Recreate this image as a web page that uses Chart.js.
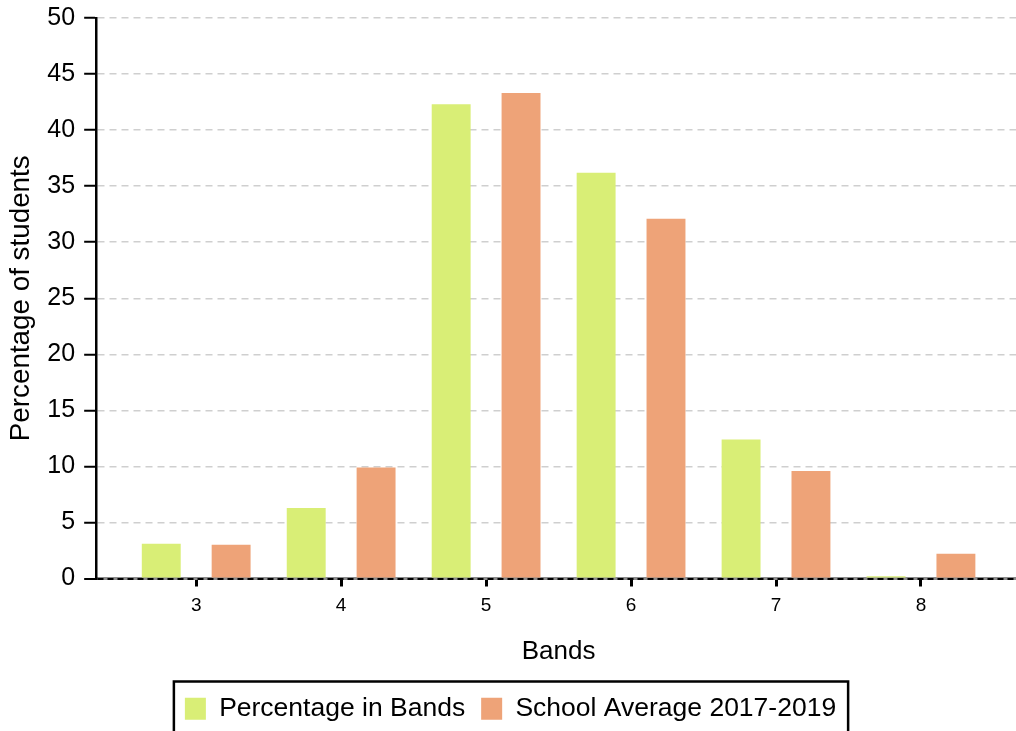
<!DOCTYPE html>
<html>
<head>
<meta charset="utf-8">
<script src="https://cdn.jsdelivr.net/npm/chart.js@4/dist/chart.umd.min.js"></script>
<style>
  html, body { margin: 0; padding: 0; background: #fff; overflow: hidden; width: 1016px; height: 731px; }
  #wrap { position: absolute; left: 0; top: 0; width: 1026px; height: 732px; }
</style>
</head>
<body>
<div id="wrap"><canvas id="c" width="1026" height="732"></canvas></div>
<script>
const bands = [3, 4, 5, 6, 7, 8];
const percentageInBands = [3.1, 6.3, 42.3, 36.2, 12.4, 0.2];
const schoolAverage = [3.0, 9.9, 43.3, 32.1, 9.6, 2.2];
const yTicks = [0, 5, 10, 15, 20, 25, 30, 35, 40, 45, 50];
const seriesNames = ['Percentage in Bands', 'School Average 2017-2019'];
const xTitle = 'Bands';
const yTitle = 'Percentage of students';

const FONT = "'Liberation Sans', Arial, Helvetica, sans-serif";
const GREEN = 'rgb(217,238,118)';
const ORANGE = 'rgb(238,163,120)';

const legendBorder = {
  id: 'legendBorder',
  afterDraw(chart) {
    const lg = chart.legend;
    if (!lg || !lg.legendHitBoxes || !lg.legendHitBoxes.length) return;
    const boxes = lg.legendHitBoxes;
    const left = Math.min(...boxes.map(b => b.left)) - 11;
    const right = Math.max(...boxes.map(b => b.left + b.width)) + 12;
    const top = Math.min(...boxes.map(b => b.top)) - 14;
    const bottom = Math.max(...boxes.map(b => b.top + b.height)) + 14;
    const ctx = chart.ctx;
    ctx.save();
    ctx.strokeStyle = '#000';
    ctx.lineWidth = 2.5;
    ctx.strokeRect(left, top, right - left, bottom - top);
    ctx.restore();
  }
};

new Chart(document.getElementById('c'), {
  type: 'bar',
  data: {
    datasets: [
      { label: seriesNames[0], data: bands.map((b, i) => ({ x: b, y: percentageInBands[i] })), backgroundColor: GREEN, borderWidth: 0 },
      { label: seriesNames[1], data: bands.map((b, i) => ({ x: b, y: schoolAverage[i] })), backgroundColor: ORANGE, borderWidth: 0 }
    ]
  },
  options: {
    responsive: false,
    animation: false,
    devicePixelRatio: 1,
    categoryPercentage: 0.964,
    barPercentage: 0.557,
    layout: { padding: { top: 18, left: 0, right: 5, bottom: 0 } },
    plugins: {
      tooltip: { enabled: false },
      title: { display: false },
      legend: {
        position: 'bottom',
        labels: {
          boxWidth: 21,
          boxHeight: 22,
          padding: 16,
          color: '#000',
          font: { family: FONT, size: 26.5 }
        }
      }
    },
    scales: {
      x: {
        type: 'linear',
        offset: false,
        min: 2.31,
        max: 8.69,
        afterBuildTicks: (scale) => { scale.ticks = bands.map(v => ({ value: v })); },
        ticks: { color: '#000', font: { family: FONT, size: 19 }, padding: 8 },
        grid: { offset: false, drawOnChartArea: false, drawTicks: true, tickLength: 8, tickWidth: 3, tickColor: '#000', z: -3 },
        border: { display: true, color: '#8a8a8a', width: 3, z: -2 },
        title: { display: true, text: xTitle, color: '#000', font: { family: FONT, size: 26 }, padding: { top: 11, bottom: 12 } }
      },
      y: {
        min: 0,
        max: 50,
        afterBuildTicks: (scale) => { scale.ticks = yTicks.map(v => ({ value: v })); },
        ticks: { color: '#000', font: { family: FONT, size: 25, lineHeight: 0.72 }, padding: 9 },
        grid: {
          color: (ctx) => (ctx.tick && ctx.tick.value === 0) ? '#000' : '#cfcfcf',
          lineWidth: (ctx) => (ctx.tick && ctx.tick.value === 0) ? 2 : 1.5,
          drawTicks: true,
          tickLength: 12,
          tickWidth: 2,
          tickColor: '#000'
        },
        border: { display: true, color: '#000', width: 2.5, dash: (ctx) => (ctx.tick && ctx.tick.value === 0) ? [6, 4] : [7, 5] },
        title: { display: true, text: yTitle, color: '#000', font: { family: FONT, size: 27.8 }, padding: { top: 5, bottom: 0 } }
      }
    }
  },
  plugins: [legendBorder]
});
</script>
</body>
</html>
